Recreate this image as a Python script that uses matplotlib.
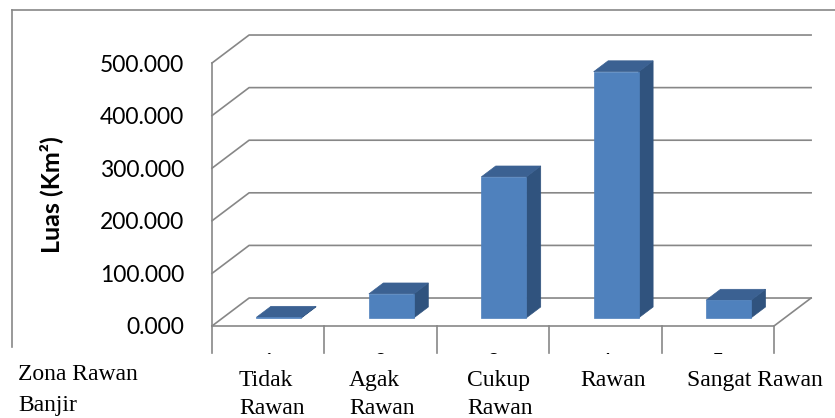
import matplotlib.pyplot as plt
from matplotlib.patches import Polygon, Rectangle
from matplotlib.lines import Line2D

# luas per zona rawan banjir (km2)
categories = ['1', '2', '3', '4', '5']
cat_names = [['Tidak', 'Rawan'], ['Agak', 'Rawan'], ['Cukup', 'Rawan'], ['Rawan'], ['Sangat Rawan']]
luas = [1.2, 45.6, 268.0, 468.0, 33.6]
yticks = [0, 100, 200, 300, 400, 500]

W, H = 835, 418
front_col = '#4F81BD'
top_col = '#3B6192'
side_col = '#30537E'
grid_col = '#878787'

# oblique depth of the floor, in category / value units
DX = 0.33
DY = 53.2


def proj(x, v, d):
    return (x + d * DX, v + d * DY)


fig = plt.figure(figsize=(W / 100, H / 100), dpi=100)
ax = fig.add_axes([212 / W, (H - 326) / H, 562 / W, 263 / H])
ax.set_xlim(0, 5)
ax.set_ylim(0, 500)
for s in ax.spines.values():
    s.set_visible(False)
ax.patch.set_visible(False)

# back wall gridlines + left wall
for v in yticks:
    pts = [proj(0, v, 0), proj(0, v, 1), proj(5, v, 1)]
    ax.plot([p[0] for p in pts], [p[1] for p in pts], color=grid_col, lw=1.2, clip_on=False, zorder=1)
ax.plot([0, 0], [0, 500], color=grid_col, lw=1.2, clip_on=False, zorder=1)

# floor edges and category dividers
pts = [proj(0, 0, 0), proj(5, 0, 0), proj(5, 0, 1)]
ax.plot([p[0] for p in pts], [p[1] for p in pts], color=grid_col, lw=1.2, clip_on=False, zorder=1)
for i in range(6):
    ax.plot([i, i], [0, -51], color=grid_col, lw=1.2, clip_on=False, zorder=1)

# 3d columns
d0, d1 = 0.29, 0.68
bw = 0.4
for i, val in enumerate(luas):
    xl = i + 0.5 - bw / 2
    xr = i + 0.5 + bw / 2
    front = [proj(xl, 0, d0), proj(xr, 0, d0), proj(xr, val, d0), proj(xl, val, d0)]
    top = [proj(xl, val, d0), proj(xr, val, d0), proj(xr, val, d1), proj(xl, val, d1)]
    side = [proj(xr, 0, d0), proj(xr, val, d0), proj(xr, val, d1), proj(xr, 0, d1)]
    for poly, c in [(side, side_col), (top, top_col), (front, front_col)]:
        ax.add_patch(Polygon(poly, closed=True, facecolor=c, edgecolor=c, lw=0.5,
                             clip_on=False, zorder=3))

ax.set_yticks(yticks)
ax.set_yticklabels(['%.3f' % t for t in yticks], fontfamily='Lato', fontsize=16.5)
ax.set_xticks([i + 0.5 for i in range(5)])
ax.set_xticklabels(categories, fontfamily='Lato', fontsize=16.5)
ax.tick_params(axis='y', length=0, pad=20)
ax.tick_params(axis='x', length=0, pad=19.5)
ax.set_ylabel('Luas (Km²)', fontfamily='Lato', fontweight='bold', fontsize=18)
ax.yaxis.set_label_coords((63 - 212) / 562, 0.5)

# outer chart frame (only top and left show)
fig.add_artist(Line2D([12 / W, 1], [1 - 10 / H, 1 - 10 / H], color='#888888', lw=1.2, zorder=4))
fig.add_artist(Line2D([12 / W, 12 / W], [1 - 10 / H, 1 - 347 / H], color='#888888', lw=1.2, zorder=4))

# white strip under the chart with the zone names
fig.add_artist(Rectangle((0, 0), 1, (H - 354) / H, transform=fig.transFigure,
                         facecolor='white', edgecolor='none', zorder=5))

serif = 'Liberation Serif'
fig.text(18 / W, 1 - 380 / H, 'Zona Rawan', family=serif, fontsize=17, va='baseline', zorder=6)
fig.text(18 / W, 1 - 411 / H, 'Banjir', family=serif, fontsize=17, va='baseline', zorder=6)
name_x = [239, 349, 467, 580, 687]
for x, lines in zip(name_x, cat_names):
    for j, t in enumerate(lines):
        fig.text(x / W, 1 - (386 + 28 * j) / H, t, family=serif, fontsize=17,
                 va='baseline', zorder=6)

fig.savefig('out.png', dpi=100, facecolor='white')
